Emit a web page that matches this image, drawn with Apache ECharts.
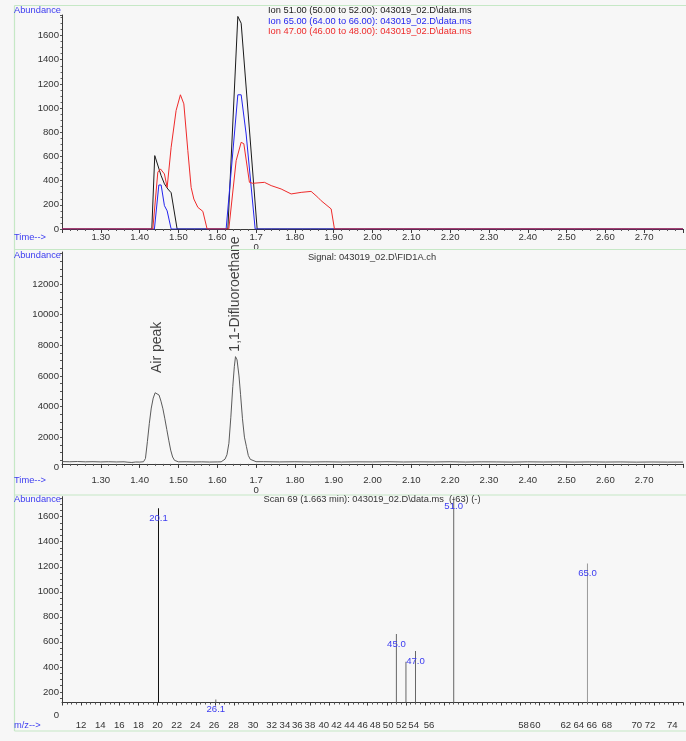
<!DOCTYPE html>
<html><head><meta charset="utf-8">
<script src="https://cdn.jsdelivr.net/npm/echarts@6/dist/echarts.min.js"></script>
<style>html,body{margin:0;padding:0;background:#f7f7f7}#c{width:686px;height:741px}</style>
</head><body><div id="c"></div>
<script>
// ---------- DATA ----------
const ionNames = [
  'Ion 51.00 (50.00 to 52.00): 043019_02.D\\data.ms',
  'Ion 65.00 (64.00 to 66.00): 043019_02.D\\data.ms',
  'Ion 47.00 (46.00 to 48.00): 043019_02.D\\data.ms'
];
const ion51Time  = [1.20, 1.4314, 1.4390, 1.4554, 1.4640, 1.4727, 1.4812, 1.4966, 1.6273, 1.6530, 1.6616, 1.7028, 2.80];
const ion51Abund = [0,    0,      607,    441,    373,    331,    300,    0,      0,      1758,   1702,   0,      0];
const ion65Time  = [1.20, 1.4381, 1.4495, 1.4554, 1.4639, 1.4709, 1.4812, 1.6229, 1.6530, 1.6616, 1.6744, 1.6977, 2.80];
const ion65Abund = [0,    0,      364,    364,    193,    150,    0,      0,      1110,   1110,   786,    0,      0];
const ion47Time  = [1.20, 1.4340, 1.4469, 1.4536, 1.4639, 1.4709, 1.4812, 1.4940, 1.5051, 1.5139, 1.5242, 1.5327, 1.5397, 1.5500, 1.5629, 1.5739,
                    1.6298, 1.6487, 1.6616, 1.6685, 1.6829, 1.6917, 1.7216, 1.7389, 1.7646, 1.7904, 1.8162, 1.8419, 1.8592, 1.8677, 1.8935, 1.9020, 2.80];
const ion47Abund = [0,    0,      470,    497,    455,    344,    676,    980,    1110,   1035,   648,    344,    248,    179,    146,    0,
                    0,    565,    717,    705,    386,    378,    386,    359,    331,    290,    303,    311,    262,    234,    166,    0,      0];

const fidTime = [1.20,1.22,1.24,1.26,1.28,1.30,1.32,1.34,1.36,1.37,1.38,1.39,1.40,1.405,
  1.41,1.415,1.42,1.425,1.43,1.435,1.44,1.445,1.45,1.455,1.46,1.465,1.47,1.475,1.48,1.485,1.49,1.495,1.50,
  1.52,1.54,1.56,1.58,1.60,1.605,
  1.61,1.615,1.62,1.625,1.63,1.635,1.64,1.644,1.647,1.651,1.656,1.66,1.665,1.67,1.675,1.68,1.685,1.69,1.70,
  1.72,1.76,1.80,1.84,1.88,1.92,1.96,2.00,2.04,2.08,2.12,2.16,2.20,2.24,2.28,2.32,2.36,2.40,2.44,2.48,2.52,2.56,2.60,2.64,2.68,2.72,2.76,2.80];
const fidSignal = [400,390,405,385,395,380,392,378,388,360,345,375,370,372,
  390,600,1700,2900,3900,4550,4900,4950,4750,4350,3850,3200,2500,1800,1150,700,480,410,385,
  390,378,385,372,380,378,
  385,420,560,850,1600,3300,5300,6600,7260,7050,6000,4800,3200,2000,1400,800,550,440,395,
  395,380,390,378,388,375,385,380,392,375,385,378,390,372,385,380,370,385,375,382,370,380,372,378,365,375,368,372];
const peakNames = ['Air peak', '1,1-Difluoroethane'];
const peakTimes = [1.445, 1.647];

const mzValues = [20.1, 26.1, 45.0, 46.0, 47.0, 51.0, 65.0];
const mzAbund  = [1667, 139,  662,  440,  526,  1830, 1227];
const mzLabels = ['20.1', '26.1', '45.0', '', '47.0', '51.0', '65.0'];

const timeTickLabels = ['1.30','1.40','1.50','1.60','1.7\n0','1.80','1.90','2.00','2.10','2.20','2.30','2.40','2.50','2.60','2.70'];
const mzTickText = ['12','14','16','18','20','22','24','26','28','30','32','34','36','38','40','42','44','46','48','50','52','54','56','58','60','62','64','66','68','70','72','74'];
const mzTickAt   = [12,14,16,18,20,22,23.95,25.92,27.95,30,31.95,33.33,34.63,35.95,37.41,38.74,40.09,41.45,42.78,44.14,45.53,46.81,48.42,58.31,59.53,62.74,64.10,65.45,67.02,70.16,71.55,73.88];
const topAbundTicks = [0,200,400,600,800,1000,1200,1400,1600];
const midAbundTicks = [2000,4000,6000,8000,10000,12000];
const botAbundTicks = [200,400,600,800,1000,1200,1400,1600];
const titles = ['Signal: 043019_02.D\\FID1A.ch', 'Scan 69 (1.663 min): 043019_02.D\\data.ms  (-63) (-)'];

// ---------- STYLE ----------
const FONT = '"Liberation Sans", Arial, sans-serif';
const FS = 9.3;     // annotation text size
const AFS = 9.6;    // axis label size
const ionColors = ['#1a1a1a', '#2424ee', '#ee2a2a'];
const blueText = '#3b3bf0';
const axisCol = '#3a3a3a';
const frameCol = '#c6e8c6';
const peakLabelGap = [19, 5];
const midMin = 250, botMin = 115;

const pairs = (xs, ys) => xs.map((x, i) => [x, ys[i]]);

function timeAxis(gridIndex, margin) {
  return {
    type: 'value', gridIndex, min: 1.2, max: 2.8, interval: 0.1,
    axisLine: { onZero: false, lineStyle: { color: axisCol, width: 1 } },
    axisTick: { length: 4, lineStyle: { color: axisCol } },
    minorTick: { show: true, splitNumber: 5, length: 2, lineStyle: { color: '#555' } },
    splitLine: { show: false },
    axisLabel: {
      customValues: timeTickLabels.map(parseFloat),
      formatter: v => {
        let best = 0;
        timeTickLabels.forEach((s, i) => { if (Math.abs(parseFloat(s) - v) < Math.abs(parseFloat(timeTickLabels[best]) - v)) best = i; });
        return timeTickLabels[best];
      },
      fontSize: AFS, lineHeight: 10, color: '#333', fontFamily: FONT, margin
    }
  };
}

function yAxisBase(gridIndex, min, max, labelVals, zeroShift, tickVals, minor) {
  const ax = {
    type: 'value', gridIndex, min, max,
    axisLine: { show: true, onZero: false, lineStyle: { color: axisCol, width: 1 } },
    splitLine: { show: false },
    axisTick: { show: true, length: 2, lineStyle: { color: '#555' } },
    axisLabel: {
      customValues: labelVals,
      formatter: v => (Math.abs(v - min) < 1e-6 && zeroShift > 0) ? '{z|0}' : String(Math.round(v)),
      rich: { z: { padding: [zeroShift * 2, 0, 0, 0], fontSize: AFS, color: '#333', fontFamily: FONT } },
      fontSize: AFS, color: '#333', fontFamily: FONT, margin: 3
    }
  };
  if (tickVals) ax.axisTick.customValues = tickVals;
  if (minor) { ax.interval = minor.interval; ax.minorTick = { show: true, splitNumber: minor.split, length: 1.5, lineStyle: { color: '#666' } }; }
  return ax;
}

const midTickVals = []; for (let v = 500; v <= 14000; v += 500) midTickVals.push(v);
const botTickVals = []; for (let v = 150; v <= 1750; v += 50) botTickVals.push(v);

const chart = echarts.init(document.getElementById('c'), null, { renderer: 'canvas' });

const textG = (x, y, text, fill, align) => ({
  type: 'text', x, y, silent: true, z: 100,
  style: { text, fill, font: FS + 'px ' + FONT, textAlign: align || 'left', textVerticalAlign: 'middle' }
});
const lineG = (x1, y1, x2, y2) => ({
  type: 'line', silent: true, z: 50,
  shape: { x1, y1, x2, y2 }, style: { stroke: frameCol, lineWidth: 1.2 }
});

const option = {
  animation: false,
  backgroundColor: '#f7f7f7',
  textStyle: { fontFamily: FONT },
  grid: [
    { left: 62, right: 3, top: 15, height: 214 },
    { left: 62, right: 3, top: 252, height: 211.9 },
    { left: 62, right: 3, top: 496.7, height: 205.8 }
  ],
  legend: {
    orient: 'vertical', left: 263, top: 5.5, itemGap: 0, itemWidth: 0, itemHeight: 0,
    selectedMode: false, padding: 0,
    textStyle: { fontSize: FS, lineHeight: 10.4, fontFamily: FONT, padding: 0 },
    data: ionNames.map((n, i) => ({ name: n, icon: 'rect', textStyle: { color: ionColors[i] } }))
  },
  xAxis: [
    timeAxis(0, 3),
    timeAxis(1, 11.8),
    {
      type: 'value', gridIndex: 2, min: 10, max: 75, interval: 2,
      axisLine: { onZero: false, lineStyle: { color: axisCol, width: 1 } },
      axisTick: { length: 3, lineStyle: { color: axisCol } },
      minorTick: { show: true, splitNumber: 4, length: 2, lineStyle: { color: '#555' } },
      splitLine: { show: false },
      axisLabel: {
        customValues: mzTickAt,
        formatter: v => {
          let best = 0;
          mzTickAt.forEach((m, i) => { if (Math.abs(m - v) < Math.abs(mzTickAt[best] - v)) best = i; });
          return mzTickText[best];
        },
        fontSize: AFS, lineHeight: 10, color: '#333', fontFamily: FONT, margin: 17.5
      }
    }
  ],
  yAxis: [
    yAxisBase(0, 0, 1770, topAbundTicks, 0, null, { interval: 200, split: 4 }),
    yAxisBase(1, midMin, 14100, [midMin].concat(midAbundTicks), 3.8, midTickVals, null),
    yAxisBase(2, botMin, 1760, [botMin].concat(botAbundTicks), 12.5, botTickVals, null)
  ],
  series: [
    { name: ionNames[0], type: 'line', xAxisIndex: 0, yAxisIndex: 0, data: pairs(ion51Time, ion51Abund),
      showSymbol: false, lineStyle: { color: ionColors[0], width: 1 }, itemStyle: { color: ionColors[0] } },
    { name: ionNames[1], type: 'line', xAxisIndex: 0, yAxisIndex: 0, data: pairs(ion65Time, ion65Abund),
      showSymbol: false, lineStyle: { color: ionColors[1], width: 1 }, itemStyle: { color: ionColors[1] } },
    { name: ionNames[2], type: 'line', xAxisIndex: 0, yAxisIndex: 0, data: pairs(ion47Time, ion47Abund),
      showSymbol: false, lineStyle: { color: ionColors[2], width: 1 }, itemStyle: { color: ionColors[2] } },
    { name: 'FID1A', type: 'line', xAxisIndex: 1, yAxisIndex: 1, data: pairs(fidTime, fidSignal),
      showSymbol: false, lineStyle: { color: '#5a5a5a', width: 1 }, itemStyle: { color: '#5a5a5a' } },
    { name: 'peaks', type: 'scatter', xAxisIndex: 1, yAxisIndex: 1, symbolSize: 0, silent: true,
      data: peakTimes.map((t, k) => ({
        value: [t, fidSignal[fidTime.indexOf(t)]],
        label: {
          show: true, formatter: peakNames[k], position: 'top', distance: peakLabelGap[k],
          rotate: 90, align: 'left', verticalAlign: 'middle',
          fontSize: 14, color: '#111', fontFamily: FONT
        }
      })) },
    { name: 'spectrum', type: 'bar', xAxisIndex: 2, yAxisIndex: 2, barWidth: 1, clip: true,
      data: mzValues.map((m, i) => [m, mzAbund[i]]),
      itemStyle: { color: p => (p.dataIndex === 0 ? '#111' : (p.dataIndex === 6 ? '#9a9a9a' : '#666')) },
      label: {
        show: true, position: 'insideTop', distance: 5,
        formatter: p => mzLabels[p.dataIndex],
        color: blueText, fontSize: AFS, fontFamily: FONT, textBorderWidth: 0
      } }
  ],
  graphic: [
    lineG(14.5, 5.5, 686, 5.5),
    lineG(14.5, 249.5, 686, 249.5),
    lineG(14.5, 495, 686, 495),
    lineG(14.5, 731, 686, 731),
    lineG(14.5, 5.5, 14.5, 731),
    textG(14, 10, 'Abundance', blueText),
    textG(14, 255, 'Abundance', blueText),
    textG(14, 499, 'Abundance', blueText),
    textG(14, 237.5, 'Time-->', blueText),
    textG(14, 480.7, 'Time-->', blueText),
    textG(14, 725, 'm/z-->', blueText),
    textG(372, 257, titles[0], '#333', 'center'),
    textG(372, 499, titles[1], '#333', 'center')
  ]
};
chart.setOption(option);
</script>
</body></html>
